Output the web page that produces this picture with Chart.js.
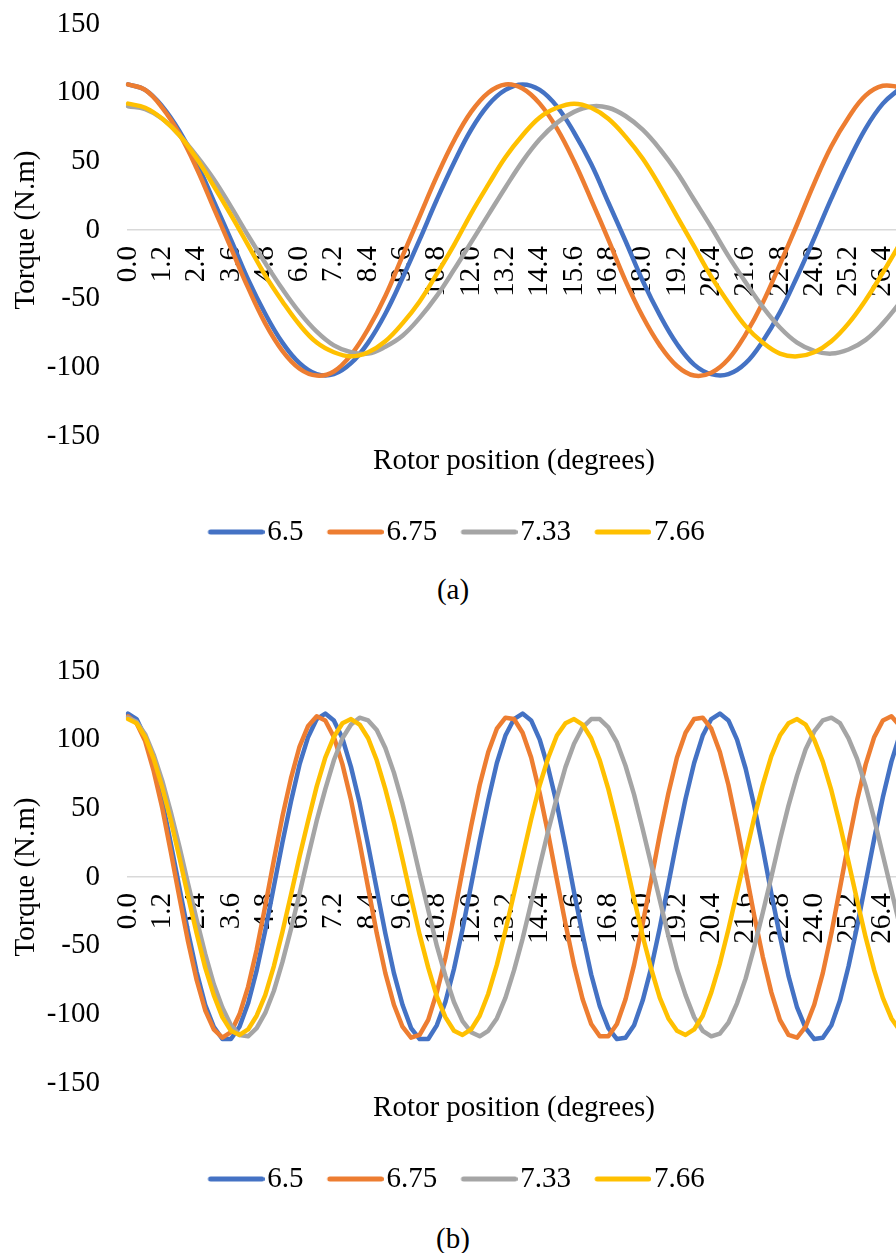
<!DOCTYPE html>
<html>
<head>
<meta charset="utf-8">
<title>Torque vs rotor position</title>
<script src="https://cdn.jsdelivr.net/npm/chart.js@4.4.1/dist/chart.umd.min.js"></script>
<style>
  html, body { margin:0; padding:0; background:#ffffff; overflow:hidden; }
  body { width:896px; height:1253px; position:relative; }
  .panel { position:absolute; left:0; width:900px; height:560px; }
  .cap { position:absolute; left:0; width:906px; text-align:center; font-family:"Liberation Serif","Times New Roman",serif; font-size:29px; line-height:34px; color:#000; }
</style>
</head>
<body>
<div class="panel" style="top:0"><canvas id="chartA" width="900" height="560"></canvas></div>
<div class="cap" style="top:572px">(a)</div>
<div class="panel" style="top:647px"><canvas id="chartB" width="900" height="560"></canvas></div>
<div class="cap" style="top:1221px">(b)</div>
<script>
// ---- data ----
const seriesNames = ['6.5', '6.75', '7.33', '7.66'];
const seriesColors = ['#4472C4', '#ED7D31', '#A5A5A5', '#FFC000'];

const tickLabels = ['0.0','1.2','2.4','3.6','4.8','6.0','7.2','8.4','9.6','10.8','12.0','13.2','14.4','15.6','16.8','18.0','19.2','20.4','21.6','22.8','24.0','25.2','26.4'];

// chart (a): rotor position samples
const anglesA = ['0.0','0.6','1.2','1.8','2.4','3.0','3.6','4.2','4.8','5.4','6.0','6.6','7.2','7.8','8.4','9.0','9.6','10.2','10.8','11.4','12.0','12.6','13.2','13.8','14.4','15.0','15.6','16.2','16.8','17.4','18.0','18.6','19.2','19.8','20.4','21.0','21.6','22.2','22.8','23.4','24.0','24.6','25.2','25.8','26.4','27.0'];

const torqueA_65  = [106,102,90,72,49,21,-7,-36,-61,-82,-97,-105,-105,-97,-82,-61,-35,-7,22,49,73,91,102,106,102,90,71,48,20,-8,-37,-62,-83,-98,-105,-105,-97,-81,-60,-34,-6,23,50,74,92,103];
const torqueA_675 = [106,102,89,70,45,16,-13,-42,-68,-88,-101,-106,-103,-91,-72,-48,-19,10,39,65,86,100,106,103,92,74,50,22,-7,-37,-63,-84,-99,-106,-104,-94,-76,-53,-25,4,34,61,82,98,105,104];
const torqueA_733 = [90,88,81,69,54,37,17,-4,-24,-43,-60,-74,-84,-89,-90,-85,-77,-64,-48,-29,-9,11,31,50,66,78,86,90,89,83,73,59,42,22,2,-19,-38,-56,-71,-82,-88,-90,-87,-80,-68,-53];
const torqueA_766 = [92,89,81,69,52,32,11,-11,-33,-52,-69,-82,-89,-92,-89,-81,-68,-52,-32,-11,12,33,53,69,82,89,92,89,81,68,52,32,10,-12,-34,-53,-70,-82,-90,-92,-89,-81,-68,-51,-31,-10];

// chart (b): rotor position samples
const anglesB = ['0.0','0.3','0.6','0.9','1.2','1.5','1.8','2.1','2.4','2.7','3.0','3.3','3.6','3.9','4.2','4.5','4.8','5.1','5.4','5.7','6.0','6.3','6.6','6.9','7.2','7.5','7.8','8.1','8.4','8.7','9.0','9.3','9.6','9.9','10.2','10.5','10.8','11.1','11.4','11.7','12.0','12.3','12.6','12.9','13.2','13.5','13.8','14.1','14.4','14.7','15.0','15.3','15.6','15.9','16.2','16.5','16.8','17.1','17.4','17.7','18.0','18.3','18.6','18.9','19.2','19.5','19.8','20.1','20.4','20.7','21.0','21.3','21.6','21.9','22.2','22.5','22.8','23.1','23.4','23.7','24.0','24.3','24.6','24.9','25.2','25.5','25.8','26.1','26.4','26.7','27.0'];

const torqueB_65  = [119,115,102,81,55,24,-8,-40,-69,-93,-109,-118,-118,-109,-92,-68,-39,-7,25,55,82,102,115,119,114,101,80,54,23,-9,-41,-70,-93,-110,-118,-118,-108,-91,-67,-38,-6,26,56,83,103,115,119,114,100,79,53,22,-11,-42,-71,-94,-110,-118,-117,-108,-90,-66,-37,-5,27,57,83,103,115,119,114,100,79,52,21,-12,-43,-72,-95,-110,-118,-117,-108,-90,-65,-36,-4,28,58,84,104];
const torqueB_675 = [117,112,99,77,50,18,-15,-47,-75,-97,-111,-117,-113,-100,-80,-53,-21,12,44,72,95,110,117,114,102,82,56,25,-8,-41,-70,-93,-109,-117,-115,-104,-84,-59,-28,5,37,67,91,108,116,115,105,87,61,31,-2,-34,-64,-89,-107,-116,-116,-107,-89,-64,-34,-2,31,61,87,105,115,116,108,91,67,37,5,-28,-58,-84,-104,-115,-117,-109,-93,-70,-41,-8,25,56,82,102,114,117,110];
const torqueB_733 = [116,113,104,89,70,47,22,-5,-31,-56,-78,-95,-108,-115,-116,-110,-99,-83,-62,-38,-12,15,41,64,85,101,111,116,114,107,94,76,54,29,2,-24,-50,-72,-91,-105,-113,-116,-112,-103,-88,-68,-45,-19,8,34,58,80,97,109,115,115,109,98,81,60,35,9,-17,-43,-67,-86,-102,-112,-116,-114,-106,-92,-74,-51,-26,0,27,52,74,93,106,114,116,112,101,86,66,42,16,-10,-36];
const torqueB_766 = [115,112,102,86,65,41,14,-14,-41,-66,-86,-102,-112,-115,-111,-101,-86,-65,-40,-13,15,41,66,87,102,112,115,111,101,85,64,40,13,-15,-42,-66,-87,-102,-112,-115,-111,-101,-85,-64,-39,-12,15,42,67,87,103,112,115,111,101,85,64,39,12,-16,-43,-67,-88,-103,-112,-115,-111,-101,-84,-63,-38,-11,16,43,67,88,103,112,115,111,100,84,63,38,11,-17,-44,-68,-88,-103,-112];

// ---- rendering ----
const FONT = '"Liberation Serif", "Times New Roman", serif';
Chart.defaults.font.family = FONT;
Chart.defaults.font.size = 29;
Chart.defaults.color = '#000';

function legendLine(color) {
  const c = document.createElement('canvas');
  c.width = 68; c.height = 8;
  const g = c.getContext('2d');
  g.strokeStyle = color; g.lineWidth = 5; g.lineCap = 'round';
  g.beginPath(); g.moveTo(14, 4); g.lineTo(65.5, 4); g.stroke();
  return c;
}

function buildChart(id, labels, values, tension) {
  const datasets = values.map((v, i) => ({
    label: seriesNames[i],
    data: v,
    borderColor: seriesColors[i],
    backgroundColor: seriesColors[i],
    borderWidth: 4.5,
    pointRadius: 0,
    pointHoverRadius: 0,
    pointStyle: legendLine(seriesColors[i]),
    tension: tension,
    borderJoinStyle: 'round',
    borderCapStyle: 'round',
    fill: false,
    order: values.length - 1 - i
  }));
  return new Chart(document.getElementById(id), {
    type: 'line',
    data: { labels: labels, datasets: datasets },
    options: {
      responsive: false,
      animation: false,
      devicePixelRatio: 1,
      events: [],
      layout: { padding: { top: 24, right: 0, bottom: 3.5, left: 13 } },
      scales: {
        x: {
          type: 'category',
          position: { y: 0 },
          offset: false,
          grid: { display: true, drawOnChartArea: false, drawTicks: false },
          border: { display: true, color: '#d9d9d9', width: 1.5 },
          ticks: {
            autoSkip: false, minRotation: 90, maxRotation: 90, padding: 16, color: '#000',
            font: { size: 29 },
            callback: function (v) {
              const l = this.getLabelForValue(v);
              return tickLabels.includes(l) ? l : '';
            }
          },
          afterFit: (s) => { s.paddingLeft = 0; s.paddingRight = 0; }
        },
        y: {
          min: -150, max: 150,
          ticks: { stepSize: 50, padding: 28, color: '#000', font: { size: 29 } },
          grid: { display: false, drawTicks: false },
          border: { display: false },
          title: { display: true, text: 'Torque (N.m)', color: '#000', font: { size: 29, lineHeight: 0.9 }, padding: { top: 0, bottom: 0 } },
          afterFit: (s) => { s.width = 115; s.paddingTop = 0; s.paddingBottom = 0; }
        }
      },
      plugins: {
        title: {
          display: true, text: 'Rotor position (degrees)', position: 'bottom', fullSize: false, weight: 500,
          color: '#000', font: { size: 29, weight: 'normal' }, padding: { top: 7.6, bottom: 15.1 }
        },
        legend: {
          display: true, position: 'bottom',
          labels: {
            usePointStyle: true, pointStyleWidth: 44.5, padding: 24, color: '#000',
            font: { size: 29 },
            sort: (a, b) => a.datasetIndex - b.datasetIndex
          }
        },
        tooltip: { enabled: false }
      }
    }
  });
}

buildChart('chartA', anglesA, [torqueA_65, torqueA_675, torqueA_733, torqueA_766], 0.4);
buildChart('chartB', anglesB, [torqueB_65, torqueB_675, torqueB_733, torqueB_766], 0);
</script>
</body>
</html>
